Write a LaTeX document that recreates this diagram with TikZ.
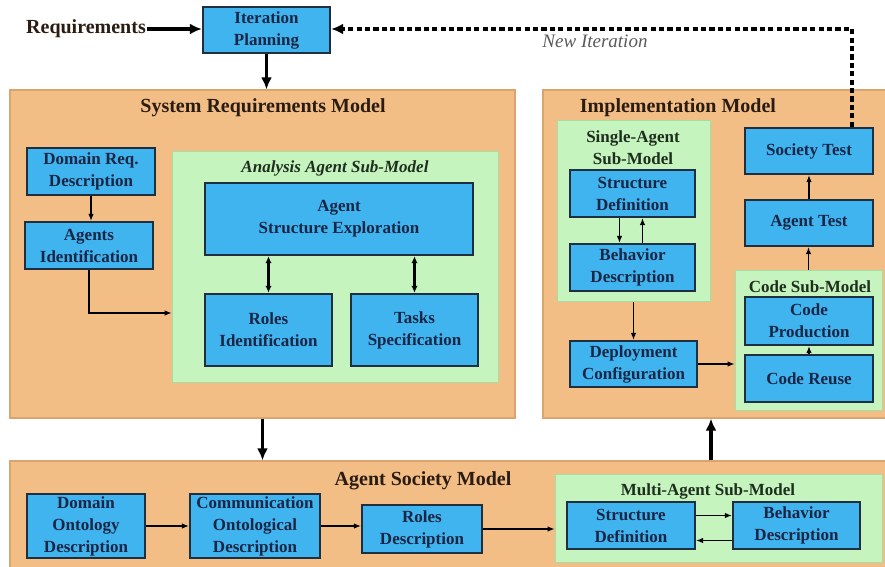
\documentclass[tikz,border=0pt]{standalone}
\usepackage{fontspec}
\setmainfont{Liberation Serif}
\usetikzlibrary{fit,calc,arrows.meta}

\definecolor{orangebg}{HTML}{F2BE86}
\definecolor{orangeln}{HTML}{D9A46E}
\definecolor{greenbg}{HTML}{C6F4BE}
\definecolor{greenln}{HTML}{A6DDA0}
\definecolor{boxblue}{HTML}{3FB4EE}
\definecolor{boxedge}{HTML}{1F2F3F}
\definecolor{boxtext}{HTML}{1B2545}
\definecolor{titletext}{HTML}{2A1C12}
\definecolor{subtext}{HTML}{1E2E1E}

\tikzset{
  model/.style={fill=orangebg, draw=orangeln, line width=0.6pt, inner sep=0pt},
  submodel/.style={fill=greenbg, draw=greenln, line width=0.5pt, inner sep=0pt},
  task/.style={fill=boxblue, draw=boxedge, line width=1.2pt, inner sep=0pt},
  tasktext/.style={align=center, text=boxtext, inner sep=0pt,
    font=\bfseries\fontsize{8.5}{11}\selectfont},
  mtitle/.style={font=\bfseries\fontsize{10}{12}\selectfont, text=titletext},
  stitle/.style={font=\bfseries\fontsize{8.5}{11}\selectfont, text=subtext, align=center},
  flow/.style={-{Latex[length=3.5pt,width=2.8pt]}, line width=0.55pt, draw=black},
  bigflow/.style={-{Latex[length=6pt,width=5.5pt]}, line width=1.6pt, draw=black},
  twoway/.style={{Latex[length=3.5pt,width=3.2pt]}-{Latex[length=3.5pt,width=3.2pt]}, line width=1.1pt},
  loopback/.style={-{Latex[length=6pt,width=5.5pt]}, line width=1.6pt, dash pattern=on 2.6pt off 1.6pt}
}

\begin{document}
\begin{tikzpicture}[x=0.5pt, y=-0.5pt]
\useasboundingbox (0,0) rectangle (885,567);

% iteration planning
\node[mtitle, inner sep=0.5pt] (req) at (86,29) {Requirements};
\node[task, fit={(203,7)(330,53)}] (iter) {};
\node[tasktext] (itert) at (iter) {Iteration\\Planning};

% system requirements model
\node[model, fit={(10,90)(515,418)}] (srm) {};
\node[mtitle] (srmt) at (263,108) {System Requirements Model};
\node[task, fit={(27,148)(155,195)}] (dreq) {};
\node[tasktext] (dreqt) at (dreq) {Domain Req.\\Description};
\node[task, fit={(25,222)(153,269)}] (agid) {};
\node[tasktext] (agidt) at (agid) {Agents\\Identification};
\node[submodel, fit={(172,152)(498,382)}] (aasm) {};
\node[stitle, font=\bfseries\itshape\fontsize{8.5}{11}\selectfont] (aasmt) at (335,168) {Analysis Agent Sub-Model};
\node[task, fit={(205,183)(473,255)}] (ase) {};
\node[tasktext] (aset) at (ase) {Agent\\Structure Exploration};
\node[task, fit={(205,294)(332,366)}] (roles) {};
\node[tasktext] (rolest) at (roles) {Roles\\Identification};
\node[task, fit={(351,294)(478,366)}] (tasks) {};
\node[tasktext] (taskst) at (tasks) {Tasks\\Specification};

% implementation model
\node[model, fit={(543,90)(892,418)}] (impl) {};
\node[mtitle] (implt) at (678,108) {Implementation Model};
\node[submodel, fit={(557,121)(710,302)}] (sasm) {};
\node[stitle] (sasmt) at (633,148) {Single-Agent\\Sub-Model};
\node[task, fit={(570,170)(695,217)}] (sdef) {};
\node[tasktext] (sdeft) at (sdef) {Structure\\Definition};
\node[task, fit={(570,244)(695,291)}] (bdesc) {};
\node[tasktext] (bdesct) at (bdesc) {Behavior\\Description};
\node[task, fit={(570,341)(697,387)}] (deploy) {};
\node[tasktext] (deployt) at (deploy) {Deployment\\Configuration};
\node[submodel, fit={(735,271)(882,410)}] (csm) {};
\node[stitle] (csmt) at (810,287) {Code Sub-Model};
\node[task, fit={(745,297)(873,345)}] (cprod) {};
\node[tasktext] (cprodt) at (cprod) {Code\\Production};
\node[task, fit={(745,355)(873,402)}] (creuse) {};
\node[tasktext] (creuset) at (creuse) {Code Reuse};
\node[task, fit={(745,200)(873,246)}] (atest) {};
\node[tasktext] (atestt) at (atest) {Agent Test};
\node[task, fit={(745,128)(873,174)}] (stest) {};
\node[tasktext] (stestt) at (stest) {Society Test};

% agent society model
\node[model, fit={(10,461)(892,580)}] (asm) {};
\node[mtitle] (asmt) at (423,481) {Agent Society Model};
\node[task, fit={(27,494)(145,558)}] (dod) {};
\node[tasktext] (dodt) at (dod) {Domain\\Ontology\\Description};
\node[task, fit={(190,494)(320,558)}] (cod) {};
\node[tasktext] (codt) at (cod) {Communication\\Ontological\\Description};
\node[task, fit={(362,505)(482,553)}] (rdesc) {};
\node[tasktext] (rdesct) at (rdesc) {Roles\\Description};
\node[submodel, fit={(555,474)(882,562)}] (masm) {};
\node[stitle] (masmt) at (708,491) {Multi-Agent Sub-Model};
\node[task, fit={(567,502)(695,549)}] (msdef) {};
\node[tasktext] (msdeft) at (msdef) {Structure\\Definition};
\node[task, fit={(733,502)(860,549)}] (mbdesc) {};
\node[tasktext] (mbdesct) at (mbdesc) {Behavior\\Description};

% connectors
\draw[bigflow] (req.east) -- (req.east -| iter.west);
\draw[bigflow] (iter.south) -- (iter.south |- srm.north);
\coordinate (turn) at (852,29);
\draw[loopback] ($(stest.north)+(43,0)$) -- (turn) -- (turn -| iter.east);
\node[font=\itshape\fontsize{9.5}{11}\selectfont, text=black!65] (newit) at (595,41) {New Iteration};

\draw[flow] (dreq.south) -- (dreq.south |- agid.north);
\draw[flow] (agid.south) |- ($(aasm.west)+(0,46)$);
\draw[twoway] (roles.north) -- (roles.north |- ase.south);
\draw[twoway] (tasks.north) -- (tasks.north |- ase.south);

\draw[flow] ($(sdef.south)+(-13,0)$) -- ($(bdesc.north)+(-13,0)$);
\draw[flow] ($(bdesc.north)+(10,0)$) -- ($(sdef.south)+(10,0)$);
\draw[flow] (sasm.south) -- (sasm.south |- deploy.north);
\draw[flow] (deploy.east) -- (deploy.east -| csm.west);
\draw[flow] (creuse.north) -- (cprod.south);
\draw[flow] (csm.north) -- (csm.north |- atest.south);
\draw[flow] (atest.north) -- (stest.south);

\draw[bigflow] (srm.south) -- (srm.south |- asm.north);
\coordinate (upx) at (711,0);
\draw[bigflow] (asm.north -| upx) -- (impl.south -| upx);

\draw[flow] (dod.east) -- (cod.west);
\draw[flow] (cod.east) -- (cod.east -| rdesc.west);
\draw[flow] (rdesc.east) -- (rdesc.east -| masm.west);
\draw[flow] ($(msdef.east)+(0,-10)$) -- ($(mbdesc.west)+(0,-10)$);
\draw[flow] ($(mbdesc.west)+(0,15)$) -- ($(msdef.east)+(0,15)$);
\end{tikzpicture}
\end{document}
